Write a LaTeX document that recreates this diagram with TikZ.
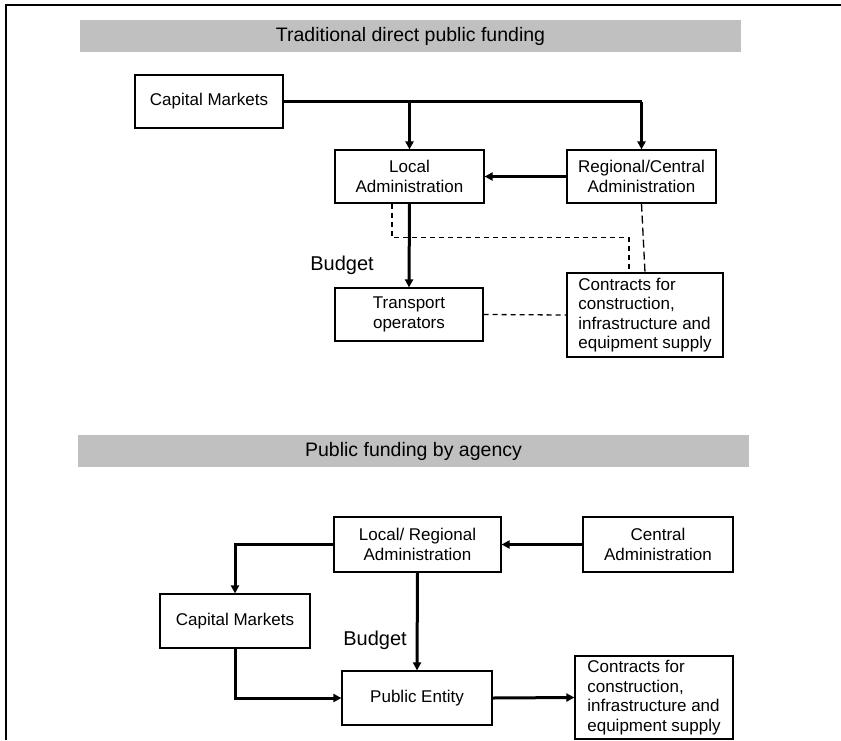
\documentclass[tikz,border=0pt]{standalone}
\usepackage{fontspec}
\setmainfont{Liberation Sans}
\usetikzlibrary{arrows.meta,calc}
\definecolor{bannergray}{HTML}{C0C0C0}
\begin{document}
\begin{tikzpicture}[x=1pt,y=-1pt,
  box/.style={draw=black,line width=1.2pt,fill=white,inner sep=0pt,align=center,
    font=\fontsize{17}{19.5}\selectfont},
  lbox/.style={box,align=left},
  banner/.style={fill=bannergray,draw=none},
  bannertext/.style={font=\fontsize{19.5}{22}\selectfont},
  budgettext/.style={font=\fontsize{20}{22}\selectfont},
  flow/.style={line width=3pt,-{Triangle[length=8pt,width=8pt]}},
  thickline/.style={line width=3pt},
  dashline/.style={line width=1.3pt,dash pattern=on 5pt off 4pt},
  longdash/.style={line width=1.3pt,dash pattern=on 8pt off 4pt},
  frameline/.style={line width=2.5pt}]
\useasboundingbox (0,0) rectangle (841,740);
% frame
\draw[frameline] (6,740) -- (6,5) -- (841,5);
% banners
\fill[banner] (80,20) rectangle (741,52);
\node[bannertext] (b1) at (410.5,36) {Traditional direct public funding};
\fill[banner] (78,435) rectangle (749,467);
\node[bannertext] (b2) at (413.5,451) {Public funding by agency};
% top diagram
\node[box,minimum width=148pt,minimum height=53pt] (cm1) at (209,101.5) {Capital Markets};
\node[box,minimum width=149pt,minimum height=53pt] (la1) at (409.5,176.5) {Local\\Administration};
\node[box,minimum width=149pt,minimum height=53pt] (rc1) at (641.5,176.5) {Regional/Central\\Administration};
\node[box,minimum width=148pt,minimum height=53pt] (to1) at (409,314.5) {Transport\\operators};
\node[lbox,minimum width=156pt,minimum height=84pt] (ct1) at (645,315) {Contracts for\\construction,\\infrastructure and\\equipment supply};
\node[budgettext] (bu1) at (342,265) {Budget};
\draw[thickline] (cm1.east) -- (rc1.north |- cm1.east);
\draw[flow] (rc1.north |- cm1.east) -- (rc1.north);
\draw[flow] (la1.north |- cm1.east) -- (la1.north);
\draw[flow] (rc1.west) -- (la1.east);
\draw[flow] (la1.south) -- (to1.north);
\draw[dashline] ($(la1.south)+(-17.5,0)$) |- ($(ct1.north)+(-16,-35)$) -- ($(ct1.north)+(-16,0)$);
\draw[longdash] (rc1.south) -- (ct1.north);
\draw[dashline] (to1.east) -- (ct1.west);
% bottom diagram
\node[box,minimum width=167pt,minimum height=55pt] (lr2) at (417.5,544.5) {Local/ Regional\\Administration};
\node[box,minimum width=150pt,minimum height=55pt] (ca2) at (658,544.5) {Central\\Administration};
\node[box,minimum width=150pt,minimum height=54pt] (cm2) at (235,621) {Capital Markets};
\node[box,minimum width=150pt,minimum height=54pt] (pe2) at (417,698) {Public Entity};
\node[lbox,minimum width=158pt,minimum height=83pt] (ct2) at (654,697.5) {Contracts for\\construction,\\infrastructure and\\equipment supply};
\node[budgettext] (bu2) at (375,640) {Budget};
\draw[flow] (ca2.west) -- (lr2.east);
\draw[flow] (lr2.west) -| (cm2.north);
\draw[flow] (lr2.south) -- (pe2.north);
\draw[flow] (cm2.south) |- (pe2.west);
\draw[flow] (pe2.east) -- (ct2.west);
\end{tikzpicture}
\end{document}
